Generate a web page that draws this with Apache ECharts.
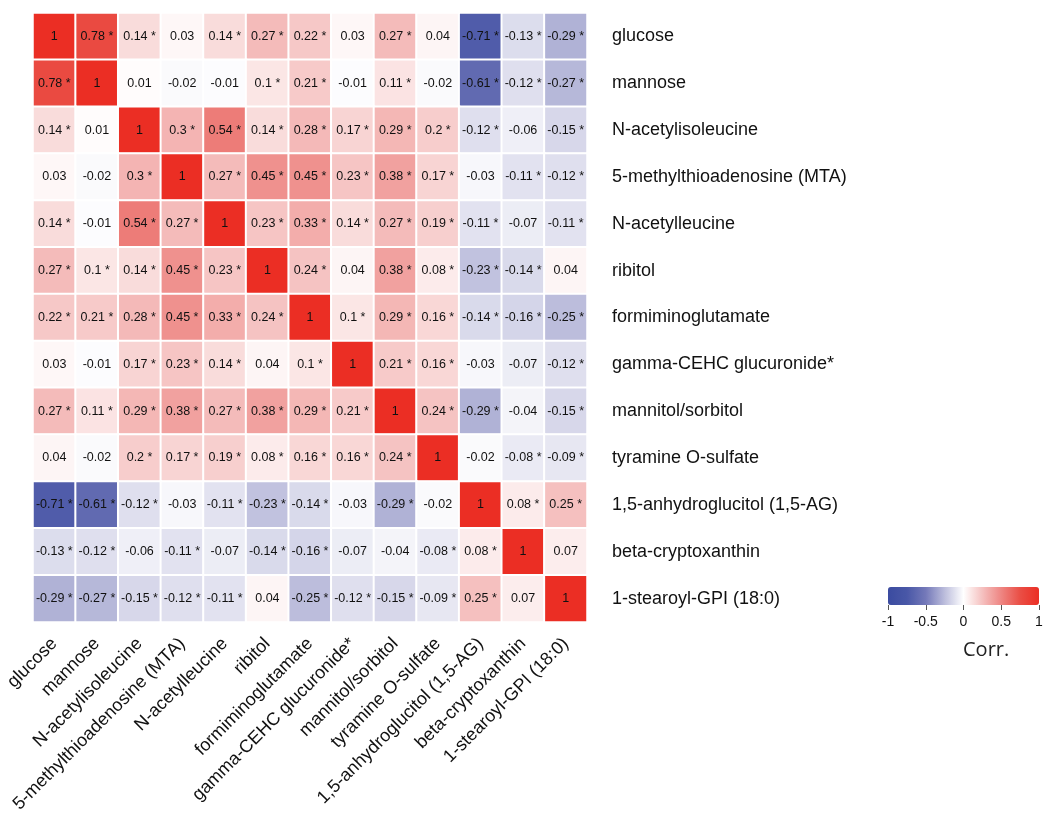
<!DOCTYPE html>
<html>
<head>
<meta charset="utf-8">
<script src="https://cdn.jsdelivr.net/npm/echarts@6/dist/echarts.min.js"></script>
<style>html,body{margin:0;padding:0;background:#fff;}#c{width:1050px;height:826px;}</style>
</head>
<body>
<div id="c"></div>
<script>
var categories = ["glucose","mannose","N-acetylisoleucine","5-methylthioadenosine (MTA)","N-acetylleucine","ribitol","formiminoglutamate","gamma-CEHC glucuronide*","mannitol/sorbitol","tyramine O-sulfate","1,5-anhydroglucitol (1,5-AG)","beta-cryptoxanthin","1-stearoyl-GPI (18:0)"];

var corr = [
 [1, 0.78, 0.14, 0.03, 0.14, 0.27, 0.22, 0.03, 0.27, 0.04, -0.71, -0.13, -0.29],
 [0.78, 1, 0.01, -0.02, -0.01, 0.1, 0.21, -0.01, 0.11, -0.02, -0.61, -0.12, -0.27],
 [0.14, 0.01, 1, 0.3, 0.54, 0.14, 0.28, 0.17, 0.29, 0.2, -0.12, -0.06, -0.15],
 [0.03, -0.02, 0.3, 1, 0.27, 0.45, 0.45, 0.23, 0.38, 0.17, -0.03, -0.11, -0.12],
 [0.14, -0.01, 0.54, 0.27, 1, 0.23, 0.33, 0.14, 0.27, 0.19, -0.11, -0.07, -0.11],
 [0.27, 0.1, 0.14, 0.45, 0.23, 1, 0.24, 0.04, 0.38, 0.08, -0.23, -0.14, 0.04],
 [0.22, 0.21, 0.28, 0.45, 0.33, 0.24, 1, 0.1, 0.29, 0.16, -0.14, -0.16, -0.25],
 [0.03, -0.01, 0.17, 0.23, 0.14, 0.04, 0.1, 1, 0.21, 0.16, -0.03, -0.07, -0.12],
 [0.27, 0.11, 0.29, 0.38, 0.27, 0.38, 0.29, 0.21, 1, 0.24, -0.29, -0.04, -0.15],
 [0.04, -0.02, 0.2, 0.17, 0.19, 0.08, 0.16, 0.16, 0.24, 1, -0.02, -0.08, -0.09],
 [-0.71, -0.61, -0.12, -0.03, -0.11, -0.23, -0.14, -0.03, -0.29, -0.02, 1, 0.08, 0.25],
 [-0.13, -0.12, -0.06, -0.11, -0.07, -0.14, -0.16, -0.07, -0.04, -0.08, 0.08, 1, 0.07],
 [-0.29, -0.27, -0.15, -0.12, -0.11, 0.04, -0.25, -0.12, -0.15, -0.09, 0.25, 0.07, 1]
];

// 1 = significant (asterisk shown)
var sig = [
 [0,1,1,0,1,1,1,0,1,0,1,1,1],
 [1,0,0,0,0,1,1,0,1,0,1,1,1],
 [1,0,0,1,1,1,1,1,1,1,1,0,1],
 [0,0,1,0,1,1,1,1,1,1,0,1,1],
 [1,0,1,1,0,1,1,1,1,1,1,0,1],
 [1,1,1,1,1,0,1,0,1,1,1,1,0],
 [1,1,1,1,1,1,0,1,1,1,1,1,1],
 [0,0,1,1,1,0,1,0,1,1,0,0,1],
 [1,1,1,1,1,1,1,1,0,1,1,0,1],
 [0,0,1,1,1,1,1,1,1,0,0,1,1],
 [1,1,1,0,1,1,1,0,1,0,0,1,1],
 [1,1,0,1,0,1,1,0,0,1,1,0,0],
 [1,1,1,1,1,0,1,1,1,1,1,0,0]
];

var colorTicks = [-1, -0.5, 0, 0.5, 1];
var colorStops = ['#3b4ba0','#4957a7','#7479b9','#bcbddc','#ffffff','#f5c0bf','#ee8582','#ea4e45','#eb2e24'];

var data = [];
for (var r = 0; r < corr.length; r++) {
  for (var c = 0; c < corr[r].length; c++) {
    data.push([c, r, corr[r][c], sig[r][c]]);
  }
}

var FONT = 'Liberation Sans, Arial, sans-serif';
var chart = echarts.init(document.getElementById('c'));
chart.setOption({
  backgroundColor: '#ffffff',
  animation: false,
  title: {
    text: 'Corr.',
    left: 963, top: 640,
    padding: 0,
    textStyle: { fontFamily: 'Open Sans, Liberation Sans, sans-serif', fontSize: 20, fontWeight: 'normal', color: '#222' }
  },
  grid: [
    { left: 33, top: 13, width: 554, height: 609 },
    { left: 888, top: 587, width: 151, height: 18 }
  ],
  xAxis: [
    {
      type: 'category', data: categories, gridIndex: 0,
      axisLine: { show: false }, axisTick: { show: false },
      splitLine: { show: false },
      axisLabel: { rotate: 45, interval: 0, margin: 19, fontSize: 18, fontFamily: FONT, color: '#111' }
    },
    {
      type: 'value', gridIndex: 1, min: -1, max: 1, interval: 0.5,
      axisLine: { show: false },
      axisTick: { show: true, length: 5, lineStyle: { color: '#555' } },
      splitLine: { show: false },
      axisLabel: { margin: 10, fontSize: 14, fontFamily: FONT, color: '#111',
        formatter: function (v) { return colorTicks.indexOf(v) >= 0 ? String(v) : ''; } }
    }
  ],
  yAxis: [
    {
      type: 'category', data: categories, gridIndex: 0, inverse: true, position: 'right',
      axisLine: { show: false }, axisTick: { show: false },
      splitLine: { show: false },
      axisLabel: { interval: 0, margin: 25, fontSize: 18, fontFamily: FONT, color: '#111', align: 'left' }
    },
    {
      type: 'value', gridIndex: 1, show: false, min: 0, max: 1
    }
  ],
  visualMap: {
    type: 'continuous', min: -1, max: 1, calculable: false,
    orient: 'horizontal', left: 888, top: 587, padding: 0,
    itemWidth: 18, itemHeight: 151, text: null, showLabel: false,
    seriesIndex: 0, dimension: 2,
    inRange: { color: colorStops }
  },
  series: [{
    type: 'heatmap',
    xAxisIndex: 0, yAxisIndex: 0,
    data: data,
    itemStyle: { borderColor: '#ffffff', borderWidth: 2 },
    label: {
      show: true, fontSize: 12.5, fontFamily: FONT, color: '#111',
      formatter: function (p) {
        var v = p.value[2];
        return String(v) + (p.value[3] ? ' *' : '');
      }
    },
    emphasis: { disabled: true }
  }]
});
</script>
</body>
</html>
